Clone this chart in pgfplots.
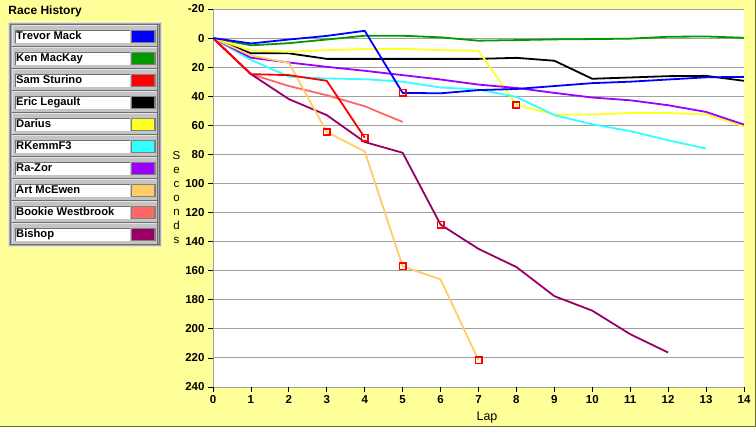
\documentclass[border=0pt]{standalone}
\usepackage{pgfplots}
\pgfplotsset{compat=1.18}
\usepackage{fontspec}
\setmainfont{Liberation Sans}
\definecolor{bgyellow}{HTML}{FFFF99}
\definecolor{gridgray}{HTML}{A0A0A0}
\definecolor{cTrevor}{HTML}{0000FF}
\definecolor{cKen}{HTML}{009900}
\definecolor{cSam}{HTML}{FF0000}
\definecolor{cEric}{HTML}{000000}
\definecolor{cDarius}{HTML}{FFFF22}
\definecolor{cRKemm}{HTML}{33FFFF}
\definecolor{cRaZor}{HTML}{9900FF}
\definecolor{cArt}{HTML}{FFCC66}
\definecolor{cBookie}{HTML}{FF6666}
\definecolor{cBishop}{HTML}{990066}
\definecolor{frameol}{HTML}{666633}
\definecolor{panelgray}{HTML}{A8A8A8}
\definecolor{rowgray}{HTML}{C4C4C4}
\definecolor{lightedge}{HTML}{E4E4E4}
\definecolor{darkedge}{HTML}{707070}
\begin{document}
\begin{tikzpicture}[x=1pt,y=1pt]
\useasboundingbox (0,0) rectangle (756,427);
\fill[bgyellow] (0,0) rectangle (756,427);
\draw[frameol, line width=1pt] (0,0.5) -- (755.5,0.5) -- (755.5,427);
% title
\node[anchor=base west, inner sep=0, font=\fontsize{12}{14}\selectfont\bfseries] at (8.3,412) {Race History};
% legend panel
\fill[panelgray] (8,180) rectangle (162,405);
\draw[lightedge, line width=1pt] (8.5,180.5) rectangle (161.5,404.5);
\draw[darkedge, line width=0.8pt] (10.6,182.6) rectangle (159.4,402.4);
\foreach \i/\name/\col in {0/Trevor Mack/cTrevor,1/Ken MacKay/cKen,2/Sam Sturino/cSam,3/Eric Legault/cEric,4/Darius/cDarius,5/RKemmF3/cRKemm,6/Ra-Zor/cRaZor,7/Art McEwen/cArt,8/Bookie Westbrook/cBookie,9/Bishop/cBishop}{
  \pgfmathsetmacro{\rt}{402-22*\i}
  \pgfmathsetmacro{\rb}{380-22*\i}
  \pgfmathsetmacro{\wt}{397-22*\i}
  \pgfmathsetmacro{\wb}{384-22*\i}
  \pgfmathsetmacro{\st}{395.7-22*\i}
  \pgfmathsetmacro{\sb}{385-22*\i}
  \pgfmathsetmacro{\bl}{387-22*\i}
  \fill[rowgray] (12,\rb) rectangle (158,\rt);
  \draw[lightedge, line width=0.8pt] (12.4,\rb+0.4) -- (12.4,\rt-0.4) -- (157.6,\rt-0.4);
  \draw[darkedge, line width=0.8pt] (12.4,\rb+0.4) -- (157.6,\rb+0.4) -- (157.6,\rt-0.4);
  \fill[white] (15,\wb) rectangle (129.5,\wt);
  \draw[darkedge, line width=0.8pt] (15.4,\wb) -- (15.4,\wt-0.4) -- (129.5,\wt-0.4);
  \fill[gray] (130.5,\wb) rectangle (155.5,\wt);
  \fill[\col] (132,\sb) rectangle (154,\st);
  \node[anchor=base west, inner sep=0, font=\fontsize{11.2}{12}\selectfont\bfseries] at (16,\bl) {\name};
}
% y label
\node[align=center, inner sep=0, font=\fontsize{11.5}{14}\selectfont] at (176.5,229.3) {S\\e\\c\\o\\n\\d\\s};
% x label
\node[anchor=base, inner sep=0, font=\fontsize{12.5}{14}\selectfont] at (487,6.3) {Lap};
\begin{axis}[
  at={(213pt,40pt)}, anchor=south west,
  width=531pt, height=378pt, scale only axis,
  xmin=0, xmax=14, ymin=-240, ymax=20,
  y filter/.expression={-y},
  xtick={0,1,...,14},
  xticklabels={0,1,2,3,4,5,6,7,8,9,10,11,12,13,14},
  ytick={-240,-220,...,20},
  yticklabels={240,220,200,180,160,140,120,100,80,60,40,20,0,-20},
  axis background/.style={fill=white},
  ymajorgrids, grid style={draw=gridgray, line width=0.9pt},
  axis x line*=bottom, axis y line*=left,
  x axis line style={draw=none},
  y axis line style={draw=gridgray, line width=1pt, -},
  tick align=outside, major tick length=5pt,
  tick style={black, line width=0.8pt},
  ticklabel style={font=\fontsize{11.5}{13}\selectfont\bfseries},
  /pgf/number format/assume math mode=true,
  every axis plot/.append style={line width=1.8pt, mark=none},
]
\addplot[cKen] coordinates {(0,0)(1,5)(2,3.5)(3,1)(4,-1.6)(5,-1.6)(6,-0.5)(7,1.8)(8,1.4)(9,0.9)(10,0.7)(11,0.4)(12,-0.9)(13,-1.1)(14,-0.2)};
\addplot[cEric] coordinates {(0,0)(1,10.5)(2,10.5)(3,14.3)(4,14.3)(5,14.3)(6,14.3)(7,14.3)(8,13.6)(9,15.6)(10,28)(11,27.1)(12,26.2)(13,26)(14,29.4)};
\addplot[cDarius] coordinates {(0,0)(1,8.5)(2,9.5)(3,8.3)(4,7.6)(5,7.4)(6,8.3)(7,8.7)(8,46)(9,52.6)(10,52.6)(11,51.5)(12,51.5)(13,52.6)(14,60.7)};
\addplot[cRKemm] coordinates {(0,0)(1,15)(2,26.5)(3,27.8)(4,28.3)(5,30)(6,34)(7,35.4)(8,40.5)(9,53)(10,59.3)(11,64)(12,70.3)(13,76)};
\addplot[cRaZor] coordinates {(0,0)(1,13.5)(2,16.8)(3,19.8)(4,22.5)(5,25.5)(6,28.5)(7,32)(8,34.3)(9,37.7)(10,40.9)(11,42.8)(12,46.2)(13,50.8)(14,59.5)};
\addplot[cBookie] coordinates {(0,0)(1,24.8)(2,33)(3,39.3)(4,46.9)(5,57.7)};
\addplot[cBishop] coordinates {(0,0)(1,24.8)(2,42)(3,53)(4,71.5)(5,78.9)(6,128.3)(7,145)(8,157.5)(9,177.5)(10,187.5)(11,203.7)(12,216.3)};
\addplot[cArt] coordinates {(0,0)(1,12)(2,17)(3,64.6)(4,78)(5,157)(6,166)(7,221.6)};
\addplot[cSam] coordinates {(0,0)(1,24.8)(2,25.5)(3,29.4)(4,68.5)};
\addplot[cTrevor] coordinates {(0,0)(1,3.7)(2,1)(3,-1.5)(4,-5)(5,37.7)(6,38)(7,35.8)(8,35)(9,33)(10,31)(11,30)(12,28.5)(13,27)(14,26.7)};
\addplot[red, draw=red, only marks, mark=square, mark size=3.2pt, line width=1.6pt, mark options={solid, draw=red, fill=none}] coordinates {(3,64.6)(4,68.5)(5,37.7)(5,157)(6,128.3)(7,221.6)(8,46)};
\end{axis}
\end{tikzpicture}
\end{document}
